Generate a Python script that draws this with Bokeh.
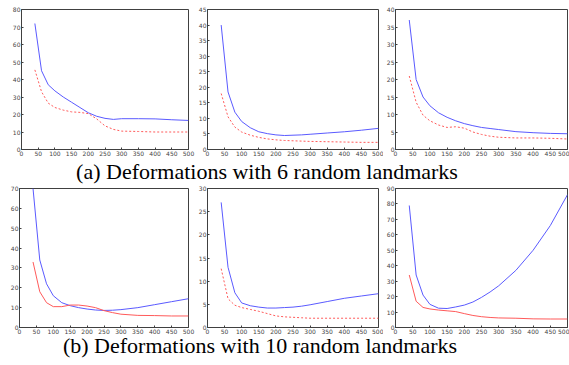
from bokeh.plotting import figure
from bokeh.models import Range1d, FixedTicker, Div
from bokeh.layouts import column, row
from bokeh.embed import file_html
from bokeh.resources import INLINE

x_vals = [40, 60, 80, 100, 125, 150, 175, 200, 225, 250, 275, 300, 350, 400, 450, 500]
x_ticks = [0, 50, 100, 150, 200, 250, 300, 350, 400, 450, 500]

# (a) 6 random landmarks
a1_blue = [72, 45, 37, 33.5, 30, 27, 24, 21, 19, 17.8, 17.2, 17.6, 17.6, 17.5, 17, 16.6]
a1_red = [45.5, 33, 26.5, 24, 22.5, 21.5, 21.2, 20.5, 17.5, 13.5, 11.5, 10.5, 10.3, 10, 10, 10]
a2_blue = [40, 18.5, 12, 9, 7, 5.7, 5.1, 4.7, 4.5, 4.6, 4.7, 4.9, 5.3, 5.7, 6.2, 6.8]
a2_red = [18, 10.5, 7.2, 5.6, 4.6, 3.9, 3.4, 3.1, 2.9, 2.8, 2.7, 2.6, 2.5, 2.4, 2.3, 2.3]
a3_blue = [37, 20, 15, 12.5, 10.5, 9.2, 8.2, 7.4, 6.8, 6.3, 6.0, 5.7, 5.1, 4.8, 4.6, 4.5]
a3_red = [21, 13.5, 9.8, 8.2, 7, 6.3, 6.5, 6.1, 5, 4.3, 3.8, 3.5, 3.3, 3.3, 3.2, 3.0]

# (b) 10 random landmarks
b1_blue = [70, 34, 22, 16, 12.5, 11, 10, 9.3, 8.8, 8.6, 8.7, 9, 10, 11.5, 13, 14.5]
b1_red = [33, 18, 12.5, 10.5, 10.5, 11.3, 11.3, 10.8, 10, 8.5, 7.5, 6.7, 6.1, 6, 5.8, 5.8]
b2_blue = [27, 13, 7.5, 5.3, 4.7, 4.4, 4.2, 4.2, 4.3, 4.4, 4.6, 4.9, 5.6, 6.3, 6.8, 7.3]
b2_red = [12.7, 6.2, 4.8, 4.3, 3.9, 3.5, 3.0, 2.5, 2.3, 2.2, 2.1, 2.0, 2.0, 2.0, 2.0, 2.0]
b3_blue = [79, 34, 21, 15, 12.5, 12.3, 13.3, 14.5, 16.5, 19.5, 23, 27, 37, 50, 66, 86]
b3_red = [34, 17, 13, 12, 11.3, 10.8, 10.3, 9, 7.8, 7, 6.5, 6.2, 6, 5.6, 5.5, 5.5]

caption_a = "(a) Deformations with 6 random landmarks"
caption_b = "(b) Deformations with 10 random landmarks"

BLUE = "#5a5aff"
RED = "#ff5a5a"
AX = "#404040"
TICK_FONT = "DejaVu Sans"


def style_axis(ax):
    ax.axis_line_color = AX
    ax.major_tick_line_color = AX
    ax.major_tick_in = 2
    ax.major_tick_out = 0
    ax.minor_tick_line_color = None
    ax.major_label_text_font = TICK_FONT
    ax.major_label_text_color = "#444444"
    ax.major_label_standoff = 1
    ax.major_label_text_font_size = "6px"


def make_plot(w, h, bl, br, bt, bb, ymax, ystep, blue, red, red_dash):
    p = figure(width=w, height=h, output_backend="svg", toolbar_location=None,
               x_range=Range1d(0, 500), y_range=Range1d(0, ymax),
               min_border_left=bl, min_border_right=br,
               min_border_top=bt, min_border_bottom=bb)
    p.xgrid.visible = False
    p.ygrid.visible = False
    p.outline_line_color = AX
    p.background_fill_color = "white"
    p.border_fill_color = "white"
    yt = list(range(0, ymax + 1, ystep))
    p.xaxis.ticker = FixedTicker(ticks=x_ticks)
    p.yaxis.ticker = FixedTicker(ticks=yt)
    for ax in p.xaxis:
        style_axis(ax)
    for ax in p.yaxis:
        style_axis(ax)
    p.line(x_vals, blue, line_color=BLUE, line_width=1)
    if red_dash:
        p.line(x_vals, red, line_color=RED, line_width=1, line_dash="2 2")
    else:
        p.line(x_vals, red, line_color=RED, line_width=1)
    return p


H1 = 159
H2 = 151
p1 = make_plot(195, H1, 21, 7, 9, 10, 80, 10, a1_blue, a1_red, True)
p2 = make_plot(188, H1, 11, 5, 9, 10, 45, 5, a2_blue, a2_red, True)
p3 = make_plot(186, H1, 9, 2, 9, 10, 40, 5, a3_blue, a3_red, True)

p4 = make_plot(195, H2, 19, 7, 3, 9, 70, 10, b1_blue, b1_red, False)
p5 = make_plot(188, H2, 11, 5, 3, 9, 30, 5, b2_blue, b2_red, True)
p6 = make_plot(186, H2, 9, 2, 3, 9, 90, 10, b3_blue, b3_red, False)


def caption(text, width, height, lh):
    html = ('<div style="font-family: \'Liberation Serif\', \'Times New Roman\', serif; '
            'font-size: 22px; line-height: %dpx; text-align: center; color: black; '
            'white-space: nowrap; width: %dpx;">%s</div>' % (lh, width, text))
    return Div(text=html, width=width, height=height, margin=0)


div_a = caption(caption_a, 534, 26, 26)
div_b = caption(caption_b, 520, 29, 20)

TOTAL_W = 569
row1 = row(p1, p2, p3, width=TOTAL_W, height=H1)
row2 = row(p4, p5, p6, width=TOTAL_W, height=H2)
layout = column(row1, div_a, row2, div_b, width=TOTAL_W, height=H1 + 26 + H2 + 29)

open("out.html", "w").write(file_html(layout, INLINE))
